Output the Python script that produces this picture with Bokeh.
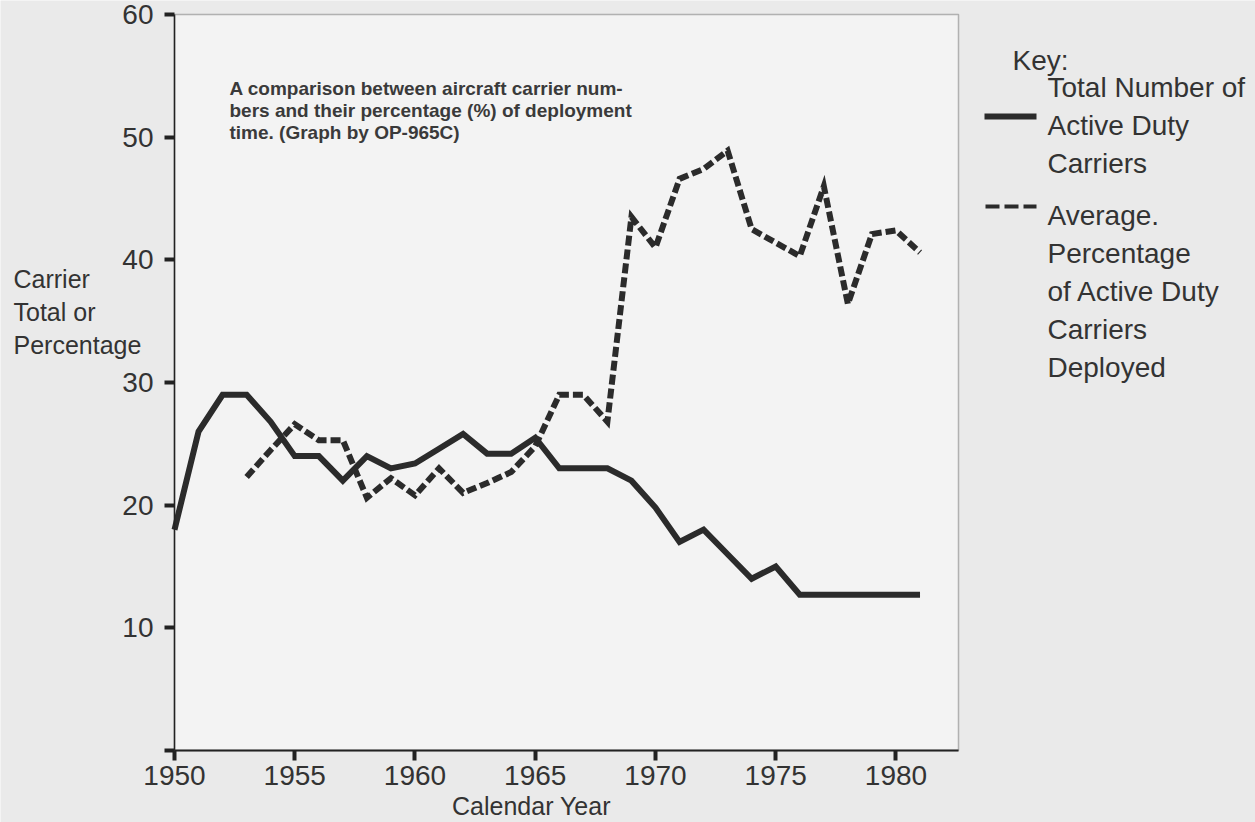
from bokeh.plotting import figure
from bokeh.models import Range1d, FixedTicker, Label, Arrow, LinearAxis, BoxAnnotation
from bokeh.embed import file_html
from bokeh.resources import INLINE

# ---- data ----
years_total = list(range(1950, 1982))
total_carriers = [18, 26, 29, 29, 26.8, 24, 24, 22, 24, 23, 23.4, 24.6, 25.8, 24.2, 24.2, 25.5,
                  23, 23, 23, 22, 19.8, 17, 18, 16, 14, 15, 12.7, 12.7, 12.7, 12.7, 12.7, 12.7]
years_pct = list(range(1953, 1982))
pct_deployed = [22.3, 24.5, 26.6, 25.3, 25.3, 20.6, 22.2, 20.8, 23, 21, 21.8, 22.7, 24.8, 29, 29,
                26.8, 43.5, 41, 46.6, 47.4, 48.9, 42.5, 41.4, 40.3, 46, 36.4, 42.1, 42.4, 40.6]
x_ticks = [1950, 1955, 1960, 1965, 1970, 1975, 1980]
y_ticks = [0, 10, 20, 30, 40, 50, 60]
y_tick_labels = {0: "", 10: "10", 20: "20", 30: "30", 40: "40", 50: "50", 60: "60"}
note_lines = ["A comparison between aircraft carrier num-",
              "bers and their percentage (%) of deployment",
              "time.  (Graph by OP-965C)"]
y_label_lines = ["Carrier", "Total or", "Percentage"]
x_label = "Calendar Year"
key_title = "Key:"
key_solid_lines = ["Total Number of", "Active Duty", "Carriers"]
key_dash_lines = ["Average.", "Percentage", "of Active Duty", "Carriers", "Deployed"]

INK = "#2b2b2b"
TXT = "#333333"
FONT = "Liberation Sans"
W, H = 1255, 822
PL, PR, PT, PB = 174, 958, 14, 750      # plot box in page pixels
X0, X1 = 1950, 1982.6                    # data extent of the plot box
Y0, Y1 = 0, 60
ppx = (PR - PL) / (X1 - X0)
ppy = (PB - PT) / (Y1 - Y0)
xr = Range1d(X0 - PL / ppx, X1 + (W - PR) / ppx)
yr = Range1d(Y0 - (H - PB) / ppy, Y1 + PT / ppy)

p = figure(width=W, height=H, output_backend="svg", toolbar_location=None,
           x_range=xr, y_range=yr, x_axis_type=None, y_axis_type=None,
           min_border=0, min_border_left=0, min_border_right=0,
           min_border_top=0, min_border_bottom=0)
p.background_fill_color = "#eaeaea"
p.border_fill_color = "#eaeaea"
p.outline_line_color = None
p.grid.visible = False

# plot box
p.add_layout(BoxAnnotation(left=X0, right=X1, bottom=Y0, top=Y1, level="underlay",
                           fill_color="#f3f3f3", fill_alpha=1.0,
                           line_color="#222222", line_width=1.5))

xaxis = LinearAxis(fixed_location=Y0, bounds=(X0, X1), ticker=FixedTicker(ticks=x_ticks))
yaxis = LinearAxis(fixed_location=X0, bounds=(Y0, Y1), ticker=FixedTicker(ticks=y_ticks))
yaxis.major_label_overrides = y_tick_labels
for ax in (xaxis, yaxis):
    ax.axis_line_color = "#222222"
    ax.axis_line_width = 1.5
    ax.major_tick_line_color = "#222222"
    ax.major_tick_line_width = 4
    ax.major_tick_in = 0
    ax.major_tick_out = 10
    ax.minor_tick_line_color = None
    ax.major_label_text_font = FONT
    ax.major_label_text_color = TXT
    ax.major_label_text_font_size = "28px"
xaxis.axis_line_width = 2
xaxis.major_label_standoff = 5
yaxis.major_label_standoff = 11
p.add_layout(xaxis, "below")
p.add_layout(yaxis, "left")

p.line(years_total, total_carriers, line_color=INK, line_width=6, line_join="miter")
p.line(years_pct, pct_deployed, line_color=INK, line_width=6, line_dash="10 4", line_join="miter")


def dx(px):  # page x pixel -> data x
    return xr.start + px / ppx


def dy(py):  # page y pixel -> data y
    return yr.end - py / ppy


def add_text(txt, px, py, size, align="left", style="normal", color=TXT):
    p.add_layout(Label(x=dx(px), y=dy(py), text=txt, text_align=align, text_baseline="alphabetic",
                       text_font=FONT, text_font_size=size, text_font_style=style,
                       text_color=color))


# note inside the plot
for i, t in enumerate(note_lines):
    add_text(t, 229, 88 + i * 22, "19px", style="bold", color="#3a3a3a")

# y label (left)
for i, t in enumerate(y_label_lines):
    add_text(t, 13, 278 + i * 33, "25px")

# x label
add_text(x_label, 531, 805, "25px", align="center")

# key
add_text(key_title, 1012, 60, "28px")
for i, t in enumerate(key_solid_lines):
    add_text(t, 1047, 87 + i * 38, "28px")
for i, t in enumerate(key_dash_lines):
    add_text(t, 1047, 215 + i * 38, "28px")

p.add_layout(Arrow(x_start=dx(984), y_start=dy(116), x_end=dx(1036), y_end=dy(116),
                   start=None, end=None, line_color=INK, line_width=6))
p.add_layout(Arrow(x_start=dx(985), y_start=dy(206), x_end=dx(1036), y_end=dy(206),
                   start=None, end=None, line_color=INK, line_width=4, line_dash="14 5"))

open("out.html", "w").write(file_html(p, INLINE))
